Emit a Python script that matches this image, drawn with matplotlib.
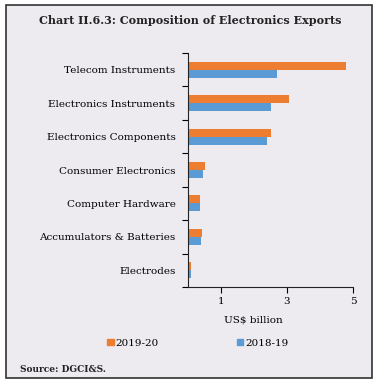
import matplotlib.pyplot as plt
from matplotlib.patches import Rectangle, Patch
import numpy as np

categories = ["Telecom Instruments", "Electronics Instruments", "Electronics Components",
              "Consumer Electronics", "Computer Hardware", "Accumulators & Batteries",
              "Electrodes"]
exports_2019_20 = [4.80, 3.05, 2.52, 0.53, 0.36, 0.43, 0.10]
exports_2018_19 = [2.71, 2.52, 2.40, 0.45, 0.36, 0.39, 0.09]
series_labels = ["2019-20", "2018-19"]
xticks = [1, 3, 5]

orange = "#ED7D31"
blue = "#5B9BD5"
bg = "#EDEAF0"

plt.rcParams['font.family'] = ['DejaVu Serif']

fig = plt.figure(figsize=(3.8, 3.85), dpi=100)
fig.patch.set_facecolor("white")
fig.patches.append(Rectangle((6 / 380, 1 - 378 / 385), 366 / 380, 373 / 385,
                             transform=fig.transFigure, facecolor=bg,
                             edgecolor="#333333", linewidth=1.2, zorder=-10))

ax = fig.add_axes([188 / 380, 1 - 287 / 385, 165 / 380, 234 / 385])
ax.set_facecolor("none")

n = len(categories)
y = np.arange(n)
h = 0.24
ax.barh(y - h / 2, exports_2019_20, height=h, color=orange, label=series_labels[0])
ax.barh(y + h / 2, exports_2018_19, height=h, color=blue, label=series_labels[1])

ax.set_ylim(n - 0.5, -0.5)
ax.set_xlim(0, 5)
ax.set_xticks(xticks)
ax.set_xticklabels([str(t) for t in xticks], fontsize=7.5)
ax.set_yticks(y)
ax.set_yticklabels(categories, fontsize=7.5)
ax.tick_params(axis='y', length=0, pad=9)
ax.set_yticks(np.arange(n + 1) - 0.5, minor=True)
ax.tick_params(axis='y', which='minor', length=4, width=0.8, direction='out')
ax.tick_params(axis='x', length=4, width=0.8, direction='out', pad=3)

for side in ["top", "right"]:
    ax.spines[side].set_visible(False)
for side in ["left", "bottom"]:
    ax.spines[side].set_linewidth(0.8)
    ax.spines[side].set_color("#222222")

fig.text(0.5, 1 - 20 / 385, "Chart II.6.3: Composition of Electronics Exports",
         ha='center', va='center', fontsize=8, fontweight='bold', color="#222222")
fig.text(253 / 380, 1 - 320 / 385, "US$ billion", ha='center', va='center', fontsize=7.5)

handles = [Patch(color=orange), Patch(color=blue)]
fig.legend(handles, series_labels, loc='center', bbox_to_anchor=(198 / 380, 1 - 343 / 385),
           ncol=2, frameon=False, fontsize=7.5, handlelength=0.6, handleheight=0.6,
           handletextpad=0.2, columnspacing=7.5)

fig.text(20 / 380, 1 - 369 / 385, "Source: DGCI&S.", ha='left', va='center',
         fontsize=6.5, fontweight='bold', color="#222222")

fig.savefig("out.png", dpi=100, facecolor=fig.get_facecolor())
